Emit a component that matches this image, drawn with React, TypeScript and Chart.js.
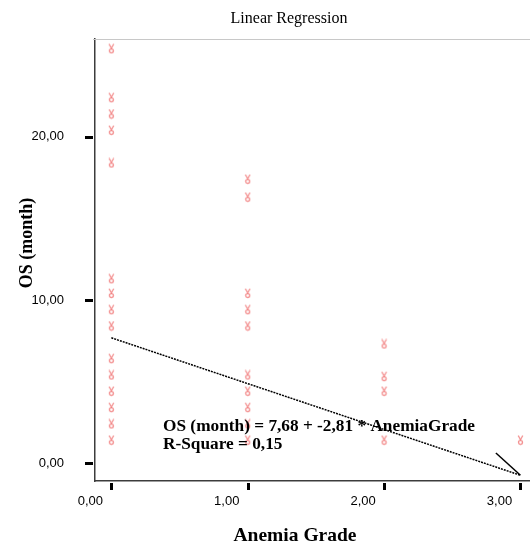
import React, { useEffect, useRef } from "react";
import { Chart, registerables } from "chart.js";

Chart.register(...registerables);

// Overall survival (months) observed at each anemia grade
const GRADE_0_OS = [25.4, 22.4, 21.4, 20.4, 18.4, 11.3, 10.4, 9.4, 8.4, 6.4, 5.4, 4.4, 3.4, 2.4, 1.4];
const GRADE_1_OS = [17.4, 16.3, 10.4, 9.4, 8.4, 5.4, 4.4, 3.4, 2.4, 1.4];
const GRADE_2_OS = [7.3, 5.3, 4.4, 1.4];
const GRADE_3_OS = [1.4];
const GRADE_GROUPS = [GRADE_0_OS, GRADE_1_OS, GRADE_2_OS, GRADE_3_OS];

// Fitted model
const INTERCEPT = 7.68;
const SLOPE = -2.81;
const R_SQUARE = 0.15;
const FIT_RANGE = [0, 3];

// Leader from the equation label to the end of the fit line
const LEADER_START = { x: 2.82, y: 0.62 };

const X_TICKS = [0, 1, 2, 3];
const Y_TICKS = [0, 10, 20];

const SERIF = '"Liberation Serif", "Times New Roman", serif';
const SANS = '"Liberation Sans", Arial, sans-serif';

const fmt = (v: number) => v.toFixed(2).replace(".", ",");

function makeMarker(): HTMLCanvasElement {
  const c = document.createElement("canvas");
  c.width = 7;
  c.height = 11;
  const g = c.getContext("2d")!;
  g.strokeStyle = "rgba(238,100,100,0.72)";
  g.lineWidth = 1.3;
  g.beginPath();
  g.moveTo(1.2, 0.8);
  g.lineTo(3.5, 5.0);
  g.lineTo(5.8, 0.8);
  g.stroke();
  g.beginPath();
  g.arc(3.5, 7.6, 2, 0, Math.PI * 2);
  g.stroke();
  return c;
}

const decorPlugin = {
  id: "decor",
  afterDatasetDraw(chart: any, args: any) {
    if (args.index !== 2) return;
    const ctx = chart.ctx;
    ctx.save();
    ctx.fillStyle = "#000";
    ctx.font = `bold 17.3px ${SERIF}`;
    ctx.textAlign = "left";
    ctx.textBaseline = "alphabetic";
    ctx.fillText(`OS (month) = ${fmt(INTERCEPT)} + ${fmt(SLOPE)} * AnemiaGrade`, 163, 431);
    ctx.fillText(`R-Square = ${fmt(R_SQUARE)}`, 163, 449);
    ctx.restore();
  },
  afterDraw(chart: any) {
    const ctx = chart.ctx;
    const { left, right, top, bottom } = chart.chartArea;
    const xs = chart.scales.x;
    const ys = chart.scales.y;
    ctx.save();

    // top frame line
    ctx.strokeStyle = "#c8c8c8";
    ctx.lineWidth = 1;
    ctx.beginPath();
    ctx.moveTo(left - 2, top + 0.5);
    ctx.lineTo(right, top + 0.5);
    ctx.stroke();

    // detached tick marks
    ctx.strokeStyle = "#000";
    ctx.lineWidth = 3;
    for (const v of Y_TICKS) {
      const py = Math.round(ys.getPixelForValue(v)) + 0.5;
      ctx.beginPath();
      ctx.moveTo(left - 10, py);
      ctx.lineTo(left - 2, py);
      ctx.stroke();
    }
    for (const v of X_TICKS) {
      const px = Math.round(xs.getPixelForValue(v)) + 0.5;
      ctx.beginPath();
      ctx.moveTo(px, bottom + 2);
      ctx.lineTo(px, bottom + 9);
      ctx.stroke();
    }

    ctx.fillStyle = "#000";
    ctx.textBaseline = "alphabetic";

    // chart title
    ctx.font = `16px ${SERIF}`;
    ctx.textAlign = "center";
    ctx.fillText("Linear Regression", 289, 23);

    // x axis title
    ctx.font = `bold 19.5px ${SERIF}`;
    ctx.fillText("Anemia Grade", 295, 541);

    // y axis title
    ctx.save();
    ctx.translate(32, 243);
    ctx.rotate(-Math.PI / 2);
    ctx.font = `bold 18px ${SERIF}`;
    ctx.fillText("OS (month)", 0, 0);
    ctx.restore();

    ctx.restore();
  },
};

export default function App() {
  const ref = useRef<HTMLCanvasElement>(null);

  useEffect(() => {
    const marker = makeMarker();
    const points = GRADE_GROUPS.flatMap((group, grade) => group.map((y) => ({ x: grade, y })));
    const fitLine = FIT_RANGE.map((x) => ({ x, y: INTERCEPT + SLOPE * x }));
    const leader = [LEADER_START, fitLine[fitLine.length - 1]];

    const chart = new Chart(ref.current!, {
      type: "scatter",
      data: {
        datasets: [
          {
            data: fitLine,
            showLine: true,
            borderColor: "#000",
            borderWidth: 1.5,
            borderDash: [2, 1],
            pointRadius: 0,
            order: 0,
          },
          {
            data: leader,
            showLine: true,
            borderColor: "#000",
            borderWidth: 1.5,
            pointRadius: 0,
            order: 1,
          },
          {
            data: points,
            pointStyle: marker,
            pointRadius: 5,
            order: 2,
          },
        ],
      },
      options: {
        responsive: false,
        animation: false,
        devicePixelRatio: 1,
        layout: { autoPadding: false, padding: { top: 39, left: 0, right: 0, bottom: 0 } },
        plugins: {
          legend: { display: false },
          title: { display: false },
          tooltip: { enabled: false },
        },
        scales: {
          x: {
            type: "linear",
            min: -0.12,
            max: 3.07,
            grid: { display: false, drawTicks: false },
            border: { display: true, color: "#3c3c3c", width: 1.5 },
            ticks: {
              padding: 13,
              labelOffset: -21,
              color: "#000",
              font: { family: SANS, size: 13 },
              maxRotation: 0,
              autoSkip: false,
              callback: (v: any) => fmt(Number(v)),
            },
            afterBuildTicks: (s: any) => {
              s.ticks = X_TICKS.map((value) => ({ value }));
            },
            afterFit: (s: any) => {
              s.height = 65;
              s.paddingLeft = 0;
              s.paddingRight = 0;
            },
          },
          y: {
            type: "linear",
            min: -1.1,
            max: 26.0,
            grid: { display: false, drawTicks: false },
            border: { display: true, color: "#3c3c3c", width: 1.5 },
            ticks: {
              padding: 31,
              color: "#000",
              font: { family: SANS, size: 13 },
              autoSkip: false,
              callback: (v: any) => fmt(Number(v)),
            },
            afterBuildTicks: (s: any) => {
              s.ticks = Y_TICKS.map((value) => ({ value }));
            },
            afterFit: (s: any) => {
              s.width = 95;
              s.paddingTop = 0;
              s.paddingBottom = 0;
            },
          },
        },
      },
      plugins: [decorPlugin],
    });

    return () => chart.destroy();
  }, []);

  return (
    <div style={{ position: "absolute", left: 0, top: 0, width: 530, height: 546, background: "#fff" }}>
      <canvas ref={ref} width={530} height={546} style={{ display: "block" }} />
    </div>
  );
}
